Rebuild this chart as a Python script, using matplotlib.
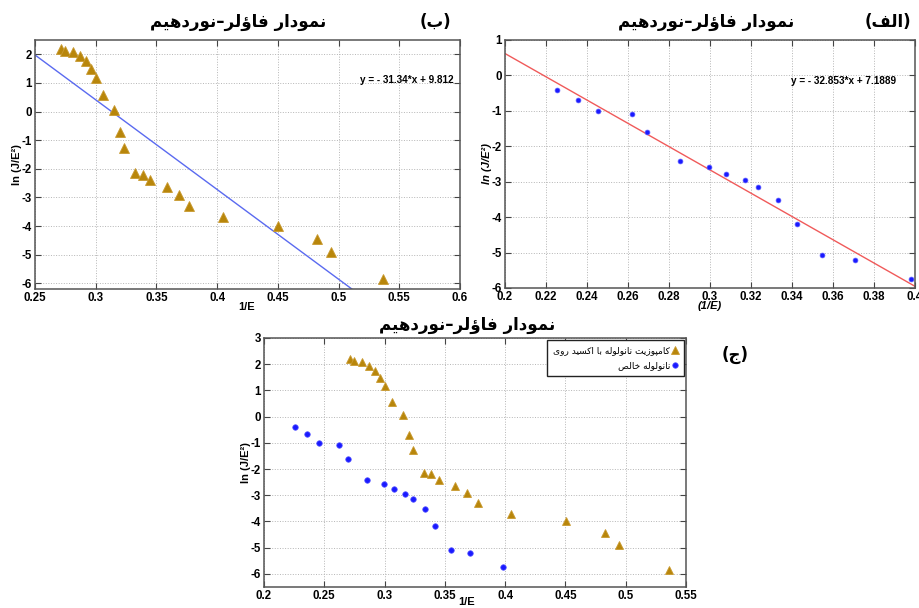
import matplotlib
matplotlib.use("Agg")
import matplotlib.pyplot as plt
from matplotlib.ticker import FuncFormatter
import numpy as np

W, H = 919, 608

# composite nanotube / ZnO (triangles)
comp_x = [0.2717, 0.2750, 0.2816, 0.2869, 0.2919, 0.2963, 0.3002, 0.3060,
          0.3151, 0.3201, 0.3234, 0.3323, 0.3386, 0.3450, 0.3585, 0.3682,
          0.3771, 0.4050, 0.4504, 0.4825, 0.4941, 0.5362]
comp_y = [2.20, 2.12, 2.08, 1.95, 1.75, 1.49, 1.16, 0.57, 0.06, -0.71, -1.28,
          -2.14, -2.20, -2.40, -2.65, -2.92, -3.29, -3.70, -4.00, -4.45,
          -4.91, -5.85]

# pure nanotube (dots)
pure_x = [0.2254, 0.2355, 0.2454, 0.2619, 0.2694, 0.2855, 0.2995, 0.3078,
          0.3169, 0.3233, 0.3332, 0.3422, 0.3547, 0.3707, 0.3980]
pure_y = [-0.40, -0.68, -1.00, -1.10, -1.60, -2.41, -2.58, -2.77, -2.95,
          -3.15, -3.51, -4.19, -5.07, -5.20, -5.75]

fit_comp = (-31.34, 9.812)
fit_pure = (-32.853, 7.1889)

title_fa = "نمودار فاؤلر–نوردهیم"
label_b, label_alef, label_j = "(ب)", "(الف)", "(ج)"
leg_comp = "کامپوزیت نانولوله با اکسید روی"
leg_pure = "نانولوله خالص"

TRI = "#b8860b"
DOT = "#1a1aff"

# minimal Persian shaping (presentation forms + visual order)
DUAL = {
    "ب": (0xFE8F, 0xFE90, 0xFE91, 0xFE92), "پ": (0xFB56, 0xFB57, 0xFB58, 0xFB59),
    "ت": (0xFE95, 0xFE96, 0xFE97, 0xFE98), "ج": (0xFE9D, 0xFE9E, 0xFE9F, 0xFEA0),
    "خ": (0xFEA5, 0xFEA6, 0xFEA7, 0xFEA8), "س": (0xFEB1, 0xFEB2, 0xFEB3, 0xFEB4),
    "ص": (0xFEB9, 0xFEBA, 0xFEBB, 0xFEBC), "ف": (0xFED1, 0xFED2, 0xFED3, 0xFED4),
    "ک": (0xFB8E, 0xFB8F, 0xFB90, 0xFB91), "ل": (0xFEDD, 0xFEDE, 0xFEDF, 0xFEE0),
    "م": (0xFEE1, 0xFEE2, 0xFEE3, 0xFEE4), "ن": (0xFEE5, 0xFEE6, 0xFEE7, 0xFEE8),
    "ه": (0xFEE9, 0xFEEA, 0xFEEB, 0xFEEC), "ی": (0xFBFC, 0xFBFD, 0xFBFE, 0xFBFF),
}
RIGHT = {
    "ا": (0xFE8D, 0xFE8E), "د": (0xFEA9, 0xFEAA), "ر": (0xFEAD, 0xFEAE),
    "ز": (0xFEAF, 0xFEB0), "و": (0xFEED, 0xFEEE), "ؤ": (0xFE85, 0xFE86),
}


def fa(text):
    out = []
    for i, ch in enumerate(text):
        if ch not in DUAL and ch not in RIGHT:
            out.append(ch)
            continue
        prev_ch = text[i - 1] if i > 0 else ""
        next_ch = text[i + 1] if i < len(text) - 1 else ""
        jp = prev_ch in DUAL
        jn = ch in DUAL and (next_ch in DUAL or next_ch in RIGHT)
        if ch in RIGHT:
            code = RIGHT[ch][1 if jp else 0]
        else:
            iso, fin, ini, med = DUAL[ch]
            code = med if (jp and jn) else fin if jp else ini if jn else iso
        out.append(chr(code))
    return "".join(reversed(out)).translate(str.maketrans("()", ")("))


def box(left, top, right, bottom):
    return [left / W, 1 - bottom / H, (right - left) / W, (bottom - top) / H]


def fx(x, y):
    return x / W, 1 - y / H


NUM = dict(family="Liberation Sans", fontweight="bold")
FA = dict(family=["DejaVu Sans"], fontweight="bold")


def style(ax, xlim, ylim, xticks, yticks, fs=8.3):
    ax.set_xlim(*xlim)
    ax.set_ylim(*ylim)
    ax.set_xticks(xticks)
    ax.set_yticks(yticks)
    fmt = FuncFormatter(lambda v, p: f"{v:g}")
    ax.xaxis.set_major_formatter(fmt)
    ax.yaxis.set_major_formatter(fmt)
    ax.grid(True, linestyle=":", color="#b5b5b5", linewidth=0.7)
    ax.tick_params(direction="in", top=True, right=True, length=4, width=0.8,
                   pad=2, labelsize=fs, color="#444444")
    for lab in ax.get_xticklabels() + ax.get_yticklabels():
        lab.set_family("Liberation Sans")
        lab.set_fontweight("bold")
    for s in ax.spines.values():
        s.set_color("#555555")
        s.set_linewidth(1.1)


fig = plt.figure(figsize=(W / 100, H / 100), dpi=100)

# (ب) composite with fit
ax_b = fig.add_axes(box(35, 40, 460, 289))
style(ax_b, (0.25, 0.6), (-6.2, 2.5), np.arange(0.25, 0.601, 0.05), range(-6, 3))
xl = np.array([0.25, 0.6])
ax_b.plot(xl, fit_comp[0] * xl + fit_comp[1], color="#5a6af0", lw=1.0)
ax_b.plot(comp_x, comp_y, "^", color=TRI, mec="#c99a30", ms=7, mew=0.6)
ax_b.text(0.518, 1.1, "y = - 31.34*x + 9.812", fontsize=7.2, va="center", **NUM)
ax_b.set_ylabel("ln (J/E²)", fontsize=8, labelpad=0, **NUM)
fig.text(*fx(247, 307), "1/E", ha="center", va="center", fontsize=8, **NUM)
fig.text(*fx(238, 22), fa(title_fa), ha="center", va="center", fontsize=12, **FA)
fig.text(*fx(435, 22), fa(label_b), ha="center", va="center", fontsize=12, **FA)

# (الف) pure nanotube with fit
ax_a = fig.add_axes(box(505, 40, 915, 288))
style(ax_a, (0.2, 0.4), (-6, 1), np.arange(0.2, 0.401, 0.02), range(-6, 2))
xl = np.array([0.2, 0.4])
ax_a.plot(xl, fit_pure[0] * xl + fit_pure[1], color="#f05a5a", lw=1.0)
ax_a.plot(pure_x, pure_y, "o", color=DOT, mec="#5a5aff", ms=3.5, mew=0.5)
ax_a.text(0.3395, -0.17, "y = - 32.853*x + 7.1889", fontsize=7.2, va="center", **NUM)
ax_a.set_ylabel("ln (J/E²)", fontsize=8, labelpad=0, style="italic", **NUM)
fig.text(*fx(710, 306), "(1/E)", ha="center", va="center", fontsize=8,
         style="italic", **NUM)
fig.text(*fx(706, 22), fa(title_fa), ha="center", va="center", fontsize=12, **FA)
fig.text(*fx(888, 22), fa(label_alef), ha="center", va="center", fontsize=12, **FA)

# (ج) both series
ax_j = fig.add_axes(box(264, 338, 686, 587))
style(ax_j, (0.2, 0.55), (-6.5, 3), np.arange(0.2, 0.551, 0.05), range(-6, 4))
ax_j.plot(comp_x, comp_y, "^", color=TRI, mec="#c99a30", ms=5.5, mew=0.6,
          label=fa(leg_comp))
ax_j.plot(pure_x, pure_y, "o", color=DOT, mec="#5a5aff", ms=4, mew=0.5,
          label=fa(leg_pure))
leg = ax_j.legend(loc="upper right", markerfirst=False, fancybox=False,
                  edgecolor="#222222", framealpha=1, borderaxespad=0.25,
                  handlelength=0.6, handletextpad=0.2, borderpad=0.7,
                  labelspacing=0.6, prop=dict(family="DejaVu Sans", size=6.5))
leg.get_frame().set_linewidth(1.0)
ax_j.set_ylabel("ln (J/E²)", fontsize=8, labelpad=0, **NUM)
fig.text(*fx(467, 602), "1/E", ha="center", va="center", fontsize=8, **NUM)
fig.text(*fx(467, 325), fa(title_fa), ha="center", va="center", fontsize=12, **FA)
fig.text(*fx(735, 355), fa(label_j), ha="center", va="center", fontsize=12, **FA)

fig.savefig("out.png", dpi=100)
